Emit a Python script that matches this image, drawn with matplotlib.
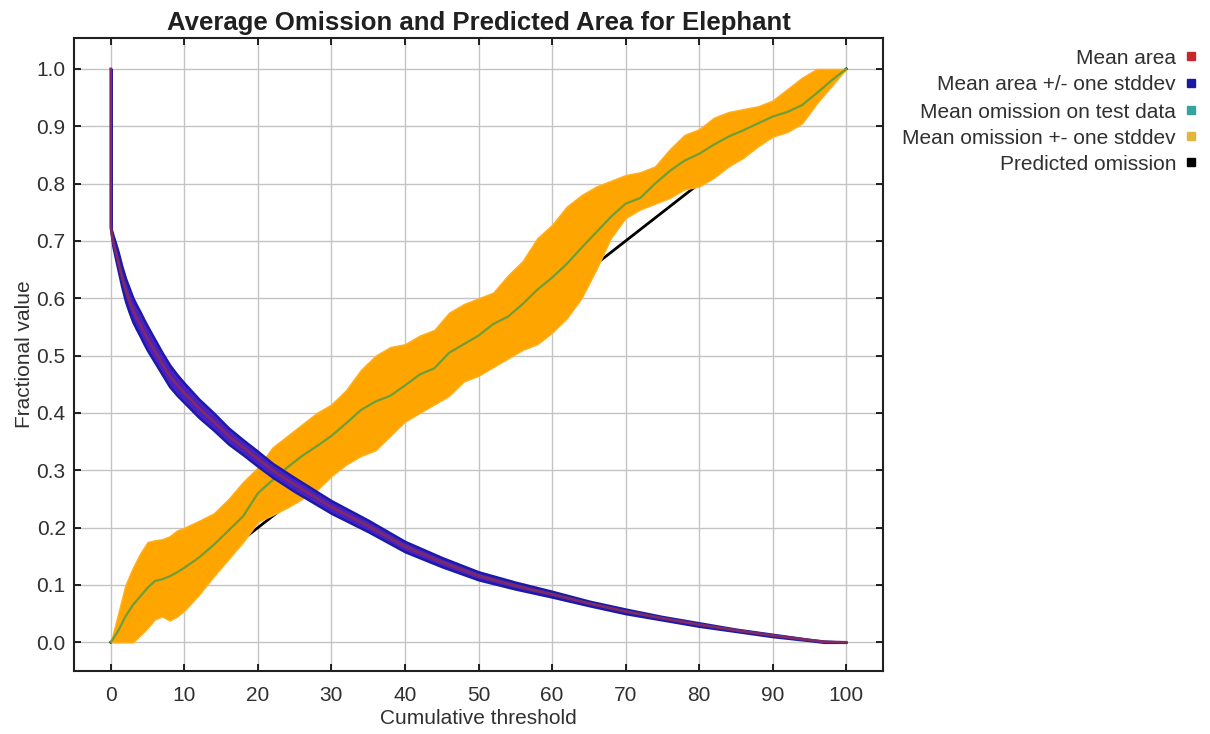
import matplotlib
matplotlib.use("Agg")
import matplotlib.pyplot as plt
from matplotlib.lines import Line2D

plt.rcParams['font.family'] = ['Liberation Sans', 'DejaVu Sans']

# ---------------- data ----------------
area_x = [0, 0, 0.1, 0.3, 0.6, 1, 1.5, 2, 2.5, 3, 3.5, 4, 4.5, 5, 6, 7, 8, 9, 10, 12,
          14, 16, 18, 20, 22, 25, 30, 35, 40, 45, 50, 55, 60, 65, 70, 75, 80, 85, 90,
          95, 97, 100]
area_mean = [1.0, 0.725, 0.715, 0.70, 0.685, 0.665, 0.638, 0.615, 0.597, 0.58, 0.567,
             0.555, 0.542, 0.53, 0.508, 0.486, 0.465, 0.449, 0.435, 0.408, 0.385, 0.36,
             0.34, 0.32, 0.30, 0.275, 0.236, 0.203, 0.167, 0.14, 0.116, 0.099, 0.084,
             0.068, 0.054, 0.042, 0.031, 0.021, 0.012, 0.004, 0.001, 0.0]
area_sd = [0.0, 0.0, 0.004, 0.01, 0.013, 0.016, 0.018, 0.02, 0.021, 0.021, 0.021,
           0.021, 0.021, 0.021, 0.02, 0.019, 0.019, 0.018, 0.017, 0.016, 0.015, 0.014,
           0.013, 0.013, 0.012, 0.012, 0.011, 0.01, 0.009, 0.008, 0.007, 0.006, 0.005,
           0.004, 0.004, 0.003, 0.003, 0.002, 0.002, 0.001, 0.001, 0.0]

om_x = [0, 1, 2, 3, 4, 5, 6, 7, 8, 9, 10, 12, 14, 16, 18, 20, 22, 24, 26, 28, 30,
        32, 34, 36, 38, 40, 42, 44, 46, 48, 50, 52, 54, 56, 58, 60, 62, 64, 66, 68,
        70, 72, 74, 76, 78, 80, 82, 84, 86, 88, 90, 92, 94, 96, 98, 100]
om_mean = [0.0, 0.02, 0.045, 0.065, 0.08, 0.095, 0.107, 0.11, 0.115, 0.122, 0.13,
           0.148, 0.17, 0.195, 0.22, 0.26, 0.283, 0.305, 0.325, 0.342, 0.36, 0.382,
           0.405, 0.42, 0.43, 0.448, 0.467, 0.478, 0.505, 0.52, 0.535, 0.555, 0.568,
           0.59, 0.615, 0.636, 0.66, 0.688, 0.715, 0.742, 0.765, 0.775, 0.80, 0.822,
           0.84, 0.852, 0.868, 0.882, 0.893, 0.905, 0.917, 0.925, 0.937, 0.958, 0.98,
           1.0]
om_upper = [0.0, 0.05, 0.10, 0.13, 0.155, 0.175, 0.178, 0.18, 0.185, 0.195, 0.20,
            0.212, 0.225, 0.25, 0.28, 0.305, 0.34, 0.36, 0.38, 0.40, 0.415, 0.44,
            0.475, 0.50, 0.515, 0.52, 0.535, 0.545, 0.575, 0.59, 0.60, 0.61, 0.64,
            0.665, 0.705, 0.728, 0.76, 0.78, 0.795, 0.805, 0.815, 0.82, 0.83, 0.86,
            0.885, 0.895, 0.915, 0.925, 0.93, 0.935, 0.945, 0.965, 0.985, 1.0, 1.0,
            1.0]
om_lower = [0.0, 0.0, 0.0, 0.0, 0.012, 0.025, 0.04, 0.045, 0.038, 0.045, 0.055,
            0.083, 0.115, 0.145, 0.175, 0.21, 0.222, 0.235, 0.25, 0.265, 0.29, 0.31,
            0.325, 0.335, 0.36, 0.385, 0.40, 0.415, 0.43, 0.455, 0.465, 0.48, 0.495,
            0.51, 0.52, 0.54, 0.565, 0.60, 0.65, 0.705, 0.74, 0.755, 0.765, 0.775,
            0.79, 0.795, 0.81, 0.83, 0.845, 0.865, 0.882, 0.89, 0.905, 0.94, 0.97,
            1.0]

pred_x = [0, 100]
pred_y = [0.0, 1.0]

x_ticks = list(range(0, 101, 10))
y_ticks = [i / 10 for i in range(11)]

legend_labels = ["Mean area", "Mean area +/- one stddev", "Mean omission on test data",
                 "Mean omission +- one stddev", "Predicted omission"]
legend_colors = ["#c8282c", "#1a1aa0", "#35a4a0", "#e4b440", "#000000"]

# ---------------- figure ----------------
fig = plt.figure(figsize=(12.10, 7.34), dpi=100)
ax = fig.add_axes([74 / 1210, 1 - 671 / 734, 809 / 1210, 633 / 734])

ax.set_xlim(-5, 105)
ax.set_ylim(-0.05, 1.054)
ax.set_axisbelow(True)
ax.grid(True, color="#c4c4c4", linewidth=1.0)

ax.plot(pred_x, pred_y, color="black", linewidth=2.0, zorder=2)

ax.fill_between(om_x, om_lower, om_upper, color="#FFA500", linewidth=1.0,
                edgecolor="#FFB020", zorder=3)
ax.plot(om_x, om_mean, color="#6c9e3a", linewidth=1.6, zorder=4)

area_lo = [m - s for m, s in zip(area_mean, area_sd)]
area_hi = [m + s for m, s in zip(area_mean, area_sd)]
ax.fill_between(area_x, area_lo, area_hi, color="#4a22c4", edgecolor="#1c1aa8",
                linewidth=1.8, zorder=5)
ax.plot(area_x, area_mean, color="#7f2a66", linewidth=2.0, zorder=6)

ax.set_xticks(x_ticks)
ax.set_yticks(y_ticks)
ax.set_yticklabels([f"{v:.1f}" for v in y_ticks])
ax.tick_params(axis="both", direction="in", length=5, width=1.2, labelsize=15,
               labelcolor="#303030", top=True, right=True)
ax.tick_params(axis="x", pad=11)
ax.tick_params(axis="y", pad=6)
for sp in ax.spines.values():
    sp.set_linewidth(1.5)
    sp.set_color("#202020")

ax.set_title("Average Omission and Predicted Area for Elephant", fontsize=18.5,
             fontweight="bold", color="#202020", pad=6)
ax.set_xlabel("Cumulative threshold", fontsize=15, color="#303030", labelpad=3)
ax.set_ylabel("Fractional value", fontsize=15, color="#303030", labelpad=2)

# legend (right-aligned text with square swatches)
row_y = [58, 85, 112, 138, 164]
for lab, col, yy in zip(legend_labels, legend_colors, row_y):
    fig.text(1176 / 1210, 1 - yy / 734, lab, ha="right", va="center", fontsize=15,
             color="#303030")
    fig.add_artist(Line2D([1191 / 1210], [1 - (yy - 2) / 734], marker="s",
                          markersize=6, color=col, linestyle="none",
                          transform=fig.transFigure))

fig.savefig("out.png", dpi=100)
